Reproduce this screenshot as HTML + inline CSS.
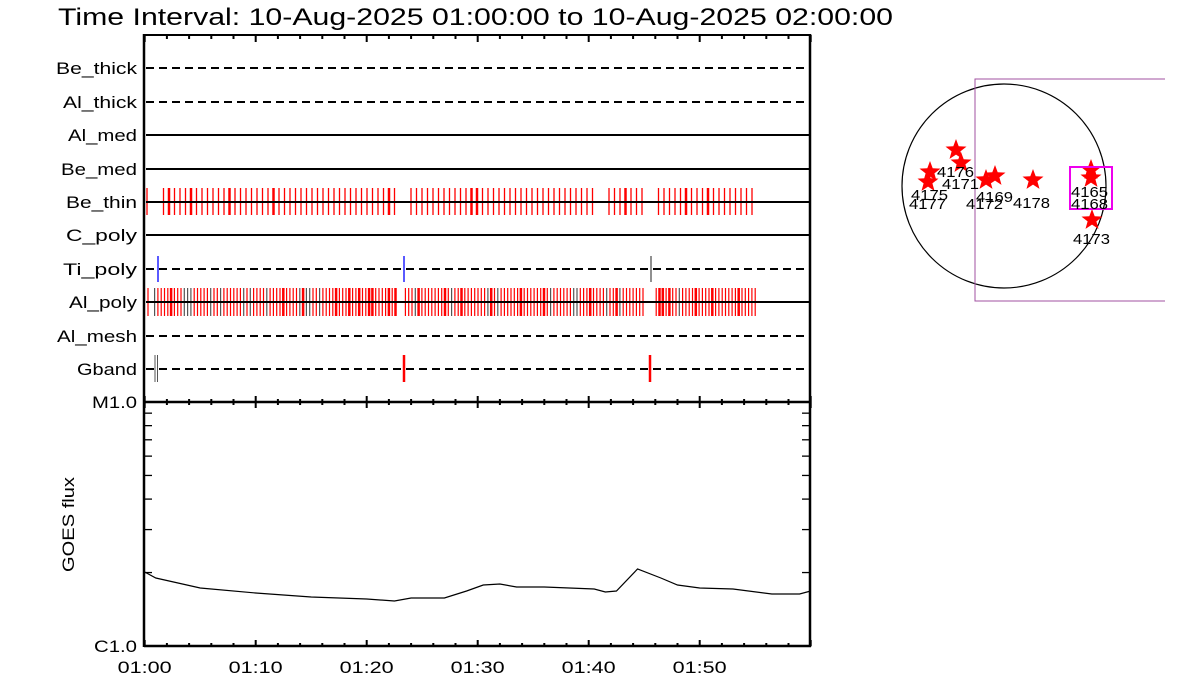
<!DOCTYPE html>
<html><head><meta charset="utf-8"><style>
html,body{margin:0;padding:0;background:#fff;width:1200px;height:700px;overflow:hidden}
svg text{font-family:"Liberation Sans",sans-serif;fill:#000}
</style></head><body>
<svg id="s" width="1200" height="700" xmlns="http://www.w3.org/2000/svg">
<text x="58" y="25" font-size="24" textLength="835" lengthAdjust="spacingAndGlyphs">Time Interval: 10-Aug-2025 01:00:00 to 10-Aug-2025 02:00:00</text>
<g id="g"></g>
</svg>
<script>
var NS="http://www.w3.org/2000/svg",g=document.getElementById('g');
function el(t,a,txt){var e=document.createElementNS(NS,t);for(var k in a)e.setAttribute(k,a[k]);if(txt!=null)e.textContent=txt;g.appendChild(e);return e;}
function tx(s,x,y,fs,w,anchor,extra){var a={x:x,y:y,'font-size':fs,textLength:w,lengthAdjust:'spacingAndGlyphs'};if(anchor)a['text-anchor']=anchor;for(var k in extra||{})a[k]=extra[k];return el('text',a,s);}
function ln(x1,y1,x2,y2,c,w,d){var a={x1:x1,y1:y1,x2:x2,y2:y2,stroke:c,'stroke-width':w};if(d)a['stroke-dasharray']=d;el('line',a);}
var X0=144.7,PX=11.1;function X(t){return X0+PX*t;}
var rows=[["Be_thick",68,1,809,81],["Al_thick",102,1,805,74],["Al_med",135,0,809,69],["Be_med",169,0,809,76],["Be_thin",202,0,809,71],["C_poly",235,0,809,71],["Ti_poly",269,1,809,74],["Al_poly",302,0,809,68],["Al_mesh",336,1,809,80],["Gband",369,1,809,60]];
var seed=7;function rnd(){seed=(seed*9301+49297)%233280;return seed/233280;}
function inGap(x,gs){for(var i=0;i<gs.length;i++)if(x>gs[i][0]&&x<gs[i][1])return true;return false;}
var gaps1=[[151,163],[399,410],[597,607],[646,656]];
for(var x=147;x<=757;x+=5.5){if(inGap(x,gaps1))continue;var w=rnd()<0.12?2.5:1.3;ln(x,188,x,215,'#f00',w);}
var gaps2=[[151,154],[398,405],[646,653]];
for(var x=148;x<=758;x+=3.3){if(inGap(x,gaps2))continue;var r=rnd();var c=r<0.1?'#555':'#f00';var w=r>0.85?2.5:1.2;ln(x,288,x,316,c,w);}
rows.forEach(function(r){
 tx(r[0],137-r[4],r[1]+6,17,r[4]);
 ln(146,r[1],r[3],r[1],'#000',2,r[2]?'8 5':null);
});
ln(146,202,809,202,'#000',2);ln(146,302,809,302,'#000',2);
ln(158,256,158,282,'#00f',1.3);ln(404,256,404,282,'#00f',1.3);ln(651,256,651,282,'#555',1.3);
ln(155,355,155,382,'#555',1);ln(157.5,355,157.5,382,'#555',1);ln(404,355,404,382,'#f00',2.5);ln(650,355,650,382,'#f00',2.5);
ln(144,35,811,35,'#000',2);ln(144,34,144,647,'#000',2.5);ln(810,34,810,647,'#000',2.5);
ln(144,402,811,402,'#000',2.5);ln(144,646,811,646,'#000',2.5);
for(var t=0;t<=60;t+=2){var big=t%10==0;var x=X(t);
 ln(x,35,x,35+(big?7:4),'#000',2);
 ln(x,402-(big?6:3),x,402+(big?6:3),'#000',2);
 ln(x,646,x,646-(big?6:3),'#000',2);
 if(big&&t<60)tx('01:'+(t==0?'00':t),x-27,673,17,54);
}
var Y0=646,DY=244;
for(var m=2;m<=9;m++){var y=Y0-DY*Math.log10(m);ln(144,y,152,y,'#000',1.3);ln(810,y,802,y,'#000',1.3);}
tx('M1.0',92,408,17,45);
tx('C1.0',94,652,17,43);
tx('GOES flux',477,74,17,95,null,{transform:'rotate(-90 0 0) translate(-1049 0)'});
var pts=[[0,572],[1,578],[3,583],[5,588],[10,593],[15,597],[20,599],[22.5,601],[24,598],[27,598],[29,591],[30.5,585],[32,584],[33.5,587],[36,587],[40.5,589],[41.5,592],[42.5,591],[44.4,569],[46.5,578],[48,585],[50,588],[53,589],[56.5,594],[59,594],[60,591]];
el('polyline',{points:pts.map(function(p){return X(p[0])+','+p[1]}).join(' '),fill:'none',stroke:'#000','stroke-width':1.2});
el('circle',{cx:1004,cy:186,r:102,fill:'none',stroke:'#000','stroke-width':1.2});
el('polyline',{points:'1165,79 975,79 975,301 1165,301',fill:'none',stroke:'#a050a0','stroke-width':1});
function star(cx,cy,R){var p=[];for(var i=0;i<10;i++){var a=-Math.PI/2+i*Math.PI/5,r=i%2?R*0.42:R;p.push((cx+r*Math.cos(a)).toFixed(1)+','+(cy+r*Math.sin(a)).toFixed(1));}el('polygon',{points:p.join(' '),fill:'#f00'});}
[[956,150],[961,163],[930,172],[928,182],[986,180],[995,176],[1033,180],[1091,170],[1091,178],[1092,220]].forEach(function(s){star(s[0],s[1],11);});
el('rect',{x:1070,y:167,width:42,height:42,fill:'none',stroke:'#e0e','stroke-width':2});
[["4176",937,177],["4171",942,189],["4175",911,200],["4177",909,209],["4169",976,202],["4172",966,209],["4178",1013,208],["4165",1071,197],["4168",1071,209],["4173",1073,244]].forEach(function(l){tx(l[0],l[1],l[2],15,37);});
</script>
</body></html>
